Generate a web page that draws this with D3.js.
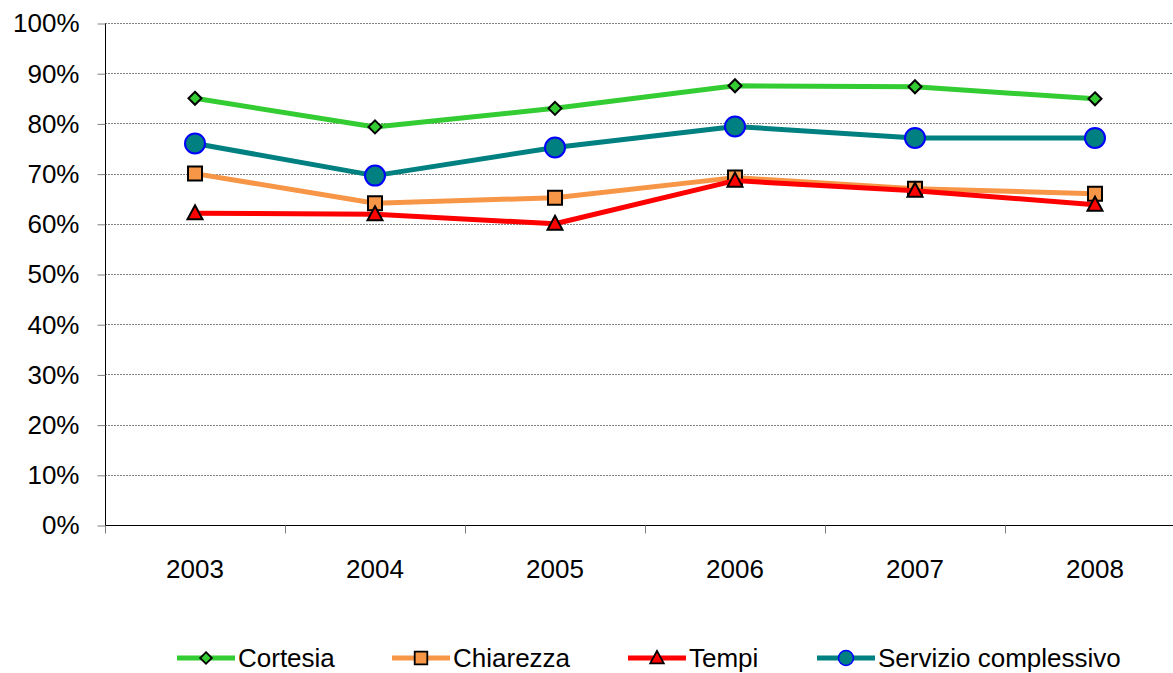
<!DOCTYPE html>
<html>
<head>
<meta charset="utf-8">
<script src="https://cdn.jsdelivr.net/npm/d3@7"></script>
<style>
  body { margin:0; background:#fff; }
  svg { display:block; font-family:'Liberation Sans', Arial, sans-serif; }
</style>
</head>
<body>
<svg id="chart" width="1173" height="673"></svg>
<script>
var years = ['2003','2004','2005','2006','2007','2008'];
var cortesia = [85.0, 79.3, 83.0, 87.5, 87.3, 84.9];
var chiarezza = [70.0, 64.1, 65.2, 69.2, 67.0, 66.0];
var tempi = [62.1, 61.9, 60.0, 68.6, 66.6, 63.8];
var servizio = [76.0, 69.6, 75.2, 79.4, 77.1, 77.1];
var seriesNames = ['Cortesia', 'Chiarezza', 'Tempi', 'Servizio complessivo'];
var yTicks = [0,10,20,30,40,50,60,70,80,90,100];

var series = [
  {name: seriesNames[0], values: cortesia, color:'#33cc33', marker:'diamond', fill:'#33cc33', stroke:'#000'},
  {name: seriesNames[1], values: chiarezza, color:'#f79646', marker:'square', fill:'#f79646', stroke:'#000'},
  {name: seriesNames[2], values: tempi, color:'#ff0000', marker:'triangle', fill:'#ff0000', stroke:'#000'},
  {name: seriesNames[3], values: servizio, color:'#008080', marker:'circle', fill:'#008080', stroke:'#0000ff'}
];

var margin = {top:23, left:105, bottom:525, right:1185};
var svg = d3.select('#chart');

var x = d3.scaleBand().domain(years).range([margin.left, margin.right]);
var y = d3.scaleLinear().domain([0,100]).range([margin.bottom, margin.top]);

// gridlines
svg.append('g')
  .selectAll('line')
  .data(yTicks.filter(d => d > 0))
  .join('line')
  .attr('x1', margin.left).attr('x2', 1173)
  .attr('y1', d => Math.round(y(d)) + 0.5).attr('y2', d => Math.round(y(d)) + 0.5)
  .attr('stroke', '#808080')
  .attr('stroke-width', 1)
  .attr('stroke-dasharray', '2,1');

// y axis
var yAxis = d3.axisLeft(y).tickValues(yTicks).tickSize(8).tickPadding(18).tickFormat(d => d + '%');
var gy = svg.append('g')
  .attr('transform', 'translate(' + (margin.left + 0.5) + ',0.5)')
  .call(yAxis);
gy.select('.domain').attr('stroke', '#000').attr('d', 'M0,' + (margin.top) + 'V' + (margin.bottom));
gy.selectAll('.tick line').attr('stroke', '#808080');
gy.selectAll('.tick text').attr('font-size', '26px').attr('fill', '#000')
  .attr('font-family', "'Liberation Sans', Arial, sans-serif");

// x axis
var gx = svg.append('g')
  .attr('transform', 'translate(0,' + (margin.bottom + 0.5) + ')');
gx.append('line')
  .attr('x1', margin.left).attr('x2', 1173)
  .attr('y1', 0).attr('y2', 0)
  .attr('stroke', '#000');
gx.selectAll('.xtick')
  .data(years.concat(['end']))
  .join('line')
  .attr('class', 'xtick')
  .attr('x1', (d,i) => Math.round(margin.left + i * x.bandwidth()) + 0.5)
  .attr('x2', (d,i) => Math.round(margin.left + i * x.bandwidth()) + 0.5)
  .attr('y1', 0).attr('y2', 8)
  .attr('stroke', '#808080');
gx.selectAll('.xlabel')
  .data(years)
  .join('text')
  .attr('class', 'xlabel')
  .attr('x', d => x(d) + x.bandwidth() / 2)
  .attr('y', 52)
  .attr('text-anchor', 'middle')
  .attr('font-size', '26px')
  .text(d => d);

function markerPath(type) {
  if (type == 'diamond') return 'M0,-6.5L6.5,0L0,6.5L-6.5,0Z';
  if (type == 'square') return 'M-7,-7H7V7H-7Z';
  if (type == 'triangle') return 'M0,-8L7.5,6H-7.5Z';
  return d3.symbol().type(d3.symbolCircle).size(Math.PI * 100)();
}

var line = d3.line()
  .x((d,i) => x(years[i]) + x.bandwidth() / 2)
  .y(d => y(d));

series.forEach(function(s) {
  var g = svg.append('g');
  g.append('path')
    .attr('d', line(s.values))
    .attr('fill', 'none')
    .attr('stroke', s.color)
    .attr('stroke-width', 5)
    .attr('stroke-linejoin', 'round');
  g.selectAll('.mk')
    .data(s.values)
    .join('path')
    .attr('class', 'mk')
    .attr('transform', (d,i) => 'translate(' + (x(years[i]) + x.bandwidth() / 2) + ',' + y(d) + ')')
    .attr('d', markerPath(s.marker))
    .attr('fill', s.fill)
    .attr('stroke', s.stroke)
    .attr('stroke-width', 2);
});

// legend
var legendX = [177, 392, 628, 817];
var lg = svg.append('g').attr('transform', 'translate(0,658)');
series.forEach(function(s, i) {
  var item = lg.append('g').attr('transform', 'translate(' + legendX[i] + ',0)');
  item.append('line')
    .attr('x1', 0).attr('x2', 58).attr('y1', 0).attr('y2', 0)
    .attr('stroke', s.color).attr('stroke-width', 5);
  item.append('path')
    .attr('transform', 'translate(29,0) scale(' + (s.marker == 'circle' ? 0.75 : 0.9) + ')')
    .attr('d', markerPath(s.marker))
    .attr('fill', s.fill)
    .attr('stroke', s.stroke)
    .attr('stroke-width', 2);
  item.append('text')
    .attr('x', 61)
    .attr('y', 9)
    .attr('font-size', '26px')
    .text(s.name);
});
</script>
</body>
</html>
